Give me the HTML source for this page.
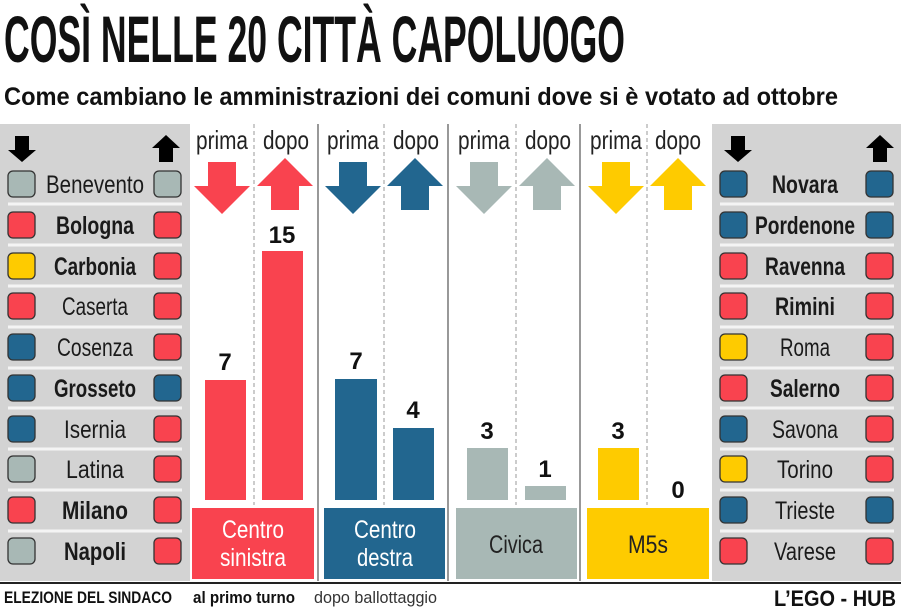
<!DOCTYPE html>
<html><head><meta charset="utf-8"><style>body{margin:0;background:#fff}svg{display:block}</style></head><body>
<svg width="901" height="612" viewBox="0 0 901 612" xmlns="http://www.w3.org/2000/svg" font-family="Liberation Sans, sans-serif">
<rect width="901" height="612" fill="#fff"/>
<text x="4" y="62" font-size="66" font-weight="bold" textLength="621" lengthAdjust="spacingAndGlyphs" fill="#111">COSÌ NELLE 20 CITTÀ CAPOLUOGO</text>
<text x="4" y="105" font-size="25" font-weight="bold" textLength="834" lengthAdjust="spacingAndGlyphs" fill="#111">Come cambiano le amministrazioni dei comuni dove si è votato ad ottobre</text>
<rect x="0" y="124" width="190" height="457" fill="#d3d3d3"/>
<rect x="712" y="124" width="189" height="457" fill="#d3d3d3"/>
<g stroke="#555" stroke-width="1.2">
<line x1="318" y1="124" x2="318" y2="581"/><line x1="448" y1="124" x2="448" y2="581"/><line x1="580" y1="124" x2="580" y2="581"/>
</g>
<g stroke="#999" stroke-width="1" stroke-dasharray="4,3">
<line x1="254" y1="124" x2="254" y2="505"/><line x1="384" y1="124" x2="384" y2="505"/><line x1="516" y1="124" x2="516" y2="505"/><line x1="647" y1="124" x2="647" y2="505"/>
</g>
<g font-size="26" fill="#222" text-anchor="middle">
<text x="222" y="149" textLength="52" lengthAdjust="spacingAndGlyphs">prima</text><text x="286" y="149" textLength="46" lengthAdjust="spacingAndGlyphs">dopo</text>
<text x="353" y="149" textLength="52" lengthAdjust="spacingAndGlyphs">prima</text><text x="416" y="149" textLength="46" lengthAdjust="spacingAndGlyphs">dopo</text>
<text x="484" y="149" textLength="52" lengthAdjust="spacingAndGlyphs">prima</text><text x="548" y="149" textLength="46" lengthAdjust="spacingAndGlyphs">dopo</text>
<text x="616" y="149" textLength="52" lengthAdjust="spacingAndGlyphs">prima</text><text x="678" y="149" textLength="46" lengthAdjust="spacingAndGlyphs">dopo</text>
</g>
<defs>
<path id="dn" d="M-14,0 H14 V24 H28 L0,52 L-28,24 H-14 Z"/>
<path id="up" d="M0,0 L28,28 H14 V52 H-14 V28 H-28 Z"/>
</defs>
<use href="#dn" x="222" y="162" fill="#f9434f"/><use href="#up" x="285" y="158" fill="#f9434f"/>
<use href="#dn" x="353" y="162" fill="#22668f"/><use href="#up" x="415" y="158" fill="#22668f"/>
<use href="#dn" x="484" y="162" fill="#a8b8b5"/><use href="#up" x="547" y="158" fill="#a8b8b5"/>
<use href="#dn" x="616" y="162" fill="#fecb00"/><use href="#up" x="678" y="158" fill="#fecb00"/>
<rect x="205" y="380" width="41" height="120" fill="#f9434f"/><rect x="262" y="251" width="41" height="249" fill="#f9434f"/>
<rect x="335" y="379" width="42" height="121" fill="#22668f"/><rect x="393" y="428" width="41" height="72" fill="#22668f"/>
<rect x="467" y="448" width="41" height="52" fill="#a8b8b5"/><rect x="525" y="486" width="41" height="14" fill="#a8b8b5"/>
<rect x="598" y="448" width="41" height="52" fill="#fecb00"/>
<g font-size="24" font-weight="bold" fill="#111" text-anchor="middle">
<text x="225" y="370">7</text><text x="282" y="243">15</text><text x="356" y="369">7</text><text x="413" y="418">4</text>
<text x="487" y="439">3</text><text x="545" y="477">1</text><text x="618" y="439">3</text><text x="678" y="498">0</text>
</g>
<rect x="192" y="508" width="122" height="71" fill="#f9434f"/><rect x="324" y="508" width="121" height="71" fill="#22668f"/>
<rect x="456" y="508" width="121" height="71" fill="#a8b8b5"/><rect x="587" y="508" width="122" height="71" fill="#fecb00"/>
<g font-size="25" text-anchor="middle">
<text x="253" y="538" fill="#fff" textLength="62" lengthAdjust="spacingAndGlyphs">Centro</text><text x="253" y="566" fill="#fff" textLength="66" lengthAdjust="spacingAndGlyphs">sinistra</text>
<text x="385" y="538" fill="#fff" textLength="62" lengthAdjust="spacingAndGlyphs">Centro</text><text x="385" y="566" fill="#fff" textLength="56" lengthAdjust="spacingAndGlyphs">destra</text>
<text x="516" y="553" fill="#222" textLength="54" lengthAdjust="spacingAndGlyphs">Civica</text>
<text x="648" y="553" fill="#222" textLength="40" lengthAdjust="spacingAndGlyphs">M5s</text>
</g>
<path d="M15,136 H29 V150 H36 L22,162 L8,150 H15 Z" fill="#000"/>
<path d="M166,135 L180,148 H173 V162 H159 V148 H152 Z" fill="#000"/>
<path d="M731,136 H745 V150 H752 L738,162 L724,150 H731 Z" fill="#000"/>
<path d="M880,135 L894,148 H887 V162 H873 V148 H866 Z" fill="#000"/>
<line x1="0" y1="583" x2="901" y2="583" stroke="#222" stroke-width="2"/>
<text x="4" y="603" font-size="17" font-weight="bold" fill="#111" textLength="168" lengthAdjust="spacingAndGlyphs">ELEZIONE DEL SINDACO</text>
<text x="193" y="603" font-size="17" font-weight="bold" fill="#111" textLength="102" lengthAdjust="spacingAndGlyphs">al primo turno</text>
<text x="314" y="603" font-size="17" fill="#333" textLength="123" lengthAdjust="spacingAndGlyphs">dopo ballottaggio</text>
<text x="896" y="606" font-size="22" font-weight="bold" fill="#111" text-anchor="end" textLength="122" lengthAdjust="spacingAndGlyphs">L’EGO - HUB</text>
<g stroke="#f4f4f4" stroke-width="3">
<line x1="8" y1="204" x2="182" y2="204"/><line x1="8" y1="245" x2="182" y2="245"/><line x1="8" y1="286" x2="182" y2="286"/><line x1="8" y1="327" x2="182" y2="327"/><line x1="8" y1="368" x2="182" y2="368"/><line x1="8" y1="408" x2="182" y2="408"/><line x1="8" y1="449" x2="182" y2="449"/><line x1="8" y1="490" x2="182" y2="490"/><line x1="8" y1="531" x2="182" y2="531"/>
<line x1="720" y1="204" x2="894" y2="204"/><line x1="720" y1="245" x2="894" y2="245"/><line x1="720" y1="286" x2="894" y2="286"/><line x1="720" y1="327" x2="894" y2="327"/><line x1="720" y1="368" x2="894" y2="368"/><line x1="720" y1="408" x2="894" y2="408"/><line x1="720" y1="449" x2="894" y2="449"/><line x1="720" y1="490" x2="894" y2="490"/><line x1="720" y1="531" x2="894" y2="531"/>
</g>
<g stroke="#333" stroke-width="1.3">
<rect x="8" y="171" width="27" height="26" rx="5" fill="#a8b8b5"/><rect x="154" y="171" width="27" height="26" rx="5" fill="#a8b8b5"/>
<rect x="8" y="212" width="27" height="26" rx="5" fill="#f9434f"/><rect x="154" y="212" width="27" height="26" rx="5" fill="#f9434f"/>
<rect x="8" y="253" width="27" height="26" rx="5" fill="#fecb00"/><rect x="154" y="253" width="27" height="26" rx="5" fill="#f9434f"/>
<rect x="8" y="293" width="27" height="26" rx="5" fill="#f9434f"/><rect x="154" y="293" width="27" height="26" rx="5" fill="#f9434f"/>
<rect x="8" y="334" width="27" height="26" rx="5" fill="#22668f"/><rect x="154" y="334" width="27" height="26" rx="5" fill="#f9434f"/>
<rect x="8" y="375" width="27" height="26" rx="5" fill="#22668f"/><rect x="154" y="375" width="27" height="26" rx="5" fill="#22668f"/>
<rect x="8" y="416" width="27" height="26" rx="5" fill="#22668f"/><rect x="154" y="416" width="27" height="26" rx="5" fill="#f9434f"/>
<rect x="8" y="456" width="27" height="26" rx="5" fill="#a8b8b5"/><rect x="154" y="456" width="27" height="26" rx="5" fill="#f9434f"/>
<rect x="8" y="497" width="27" height="26" rx="5" fill="#f9434f"/><rect x="154" y="497" width="27" height="26" rx="5" fill="#f9434f"/>
<rect x="8" y="538" width="27" height="26" rx="5" fill="#a8b8b5"/><rect x="154" y="538" width="27" height="26" rx="5" fill="#f9434f"/>
<rect x="720" y="171" width="27" height="26" rx="5" fill="#22668f"/><rect x="866" y="171" width="27" height="26" rx="5" fill="#22668f"/>
<rect x="720" y="212" width="27" height="26" rx="5" fill="#22668f"/><rect x="866" y="212" width="27" height="26" rx="5" fill="#22668f"/>
<rect x="720" y="253" width="27" height="26" rx="5" fill="#f9434f"/><rect x="866" y="253" width="27" height="26" rx="5" fill="#f9434f"/>
<rect x="720" y="293" width="27" height="26" rx="5" fill="#f9434f"/><rect x="866" y="293" width="27" height="26" rx="5" fill="#f9434f"/>
<rect x="720" y="334" width="27" height="26" rx="5" fill="#fecb00"/><rect x="866" y="334" width="27" height="26" rx="5" fill="#f9434f"/>
<rect x="720" y="375" width="27" height="26" rx="5" fill="#f9434f"/><rect x="866" y="375" width="27" height="26" rx="5" fill="#f9434f"/>
<rect x="720" y="416" width="27" height="26" rx="5" fill="#22668f"/><rect x="866" y="416" width="27" height="26" rx="5" fill="#f9434f"/>
<rect x="720" y="456" width="27" height="26" rx="5" fill="#fecb00"/><rect x="866" y="456" width="27" height="26" rx="5" fill="#f9434f"/>
<rect x="720" y="497" width="27" height="26" rx="5" fill="#22668f"/><rect x="866" y="497" width="27" height="26" rx="5" fill="#22668f"/>
<rect x="720" y="538" width="27" height="26" rx="5" fill="#f9434f"/><rect x="866" y="538" width="27" height="26" rx="5" fill="#f9434f"/>
</g>
<g font-size="25" fill="#1a1a1a" text-anchor="middle">
<text x="95" y="193" textLength="98" lengthAdjust="spacingAndGlyphs">Benevento</text>
<text x="95" y="234" font-weight="bold" textLength="78" lengthAdjust="spacingAndGlyphs">Bologna</text>
<text x="95" y="275" font-weight="bold" textLength="82" lengthAdjust="spacingAndGlyphs">Carbonia</text>
<text x="95" y="315" textLength="66" lengthAdjust="spacingAndGlyphs">Caserta</text>
<text x="95" y="356" textLength="76" lengthAdjust="spacingAndGlyphs">Cosenza</text>
<text x="95" y="397" font-weight="bold" textLength="82" lengthAdjust="spacingAndGlyphs">Grosseto</text>
<text x="95" y="438" textLength="62" lengthAdjust="spacingAndGlyphs">Isernia</text>
<text x="95" y="478" textLength="58" lengthAdjust="spacingAndGlyphs">Latina</text>
<text x="95" y="519" font-weight="bold" textLength="66" lengthAdjust="spacingAndGlyphs">Milano</text>
<text x="95" y="560" font-weight="bold" textLength="62" lengthAdjust="spacingAndGlyphs">Napoli</text>
<text x="805" y="193" font-weight="bold" textLength="66" lengthAdjust="spacingAndGlyphs">Novara</text>
<text x="805" y="234" font-weight="bold" textLength="100" lengthAdjust="spacingAndGlyphs">Pordenone</text>
<text x="805" y="275" font-weight="bold" textLength="80" lengthAdjust="spacingAndGlyphs">Ravenna</text>
<text x="805" y="315" font-weight="bold" textLength="60" lengthAdjust="spacingAndGlyphs">Rimini</text>
<text x="805" y="356" textLength="50" lengthAdjust="spacingAndGlyphs">Roma</text>
<text x="805" y="397" font-weight="bold" textLength="70" lengthAdjust="spacingAndGlyphs">Salerno</text>
<text x="805" y="438" textLength="66" lengthAdjust="spacingAndGlyphs">Savona</text>
<text x="805" y="478" textLength="56" lengthAdjust="spacingAndGlyphs">Torino</text>
<text x="805" y="519" textLength="60" lengthAdjust="spacingAndGlyphs">Trieste</text>
<text x="805" y="560" textLength="62" lengthAdjust="spacingAndGlyphs">Varese</text>
</g>
</svg>
</body></html>
